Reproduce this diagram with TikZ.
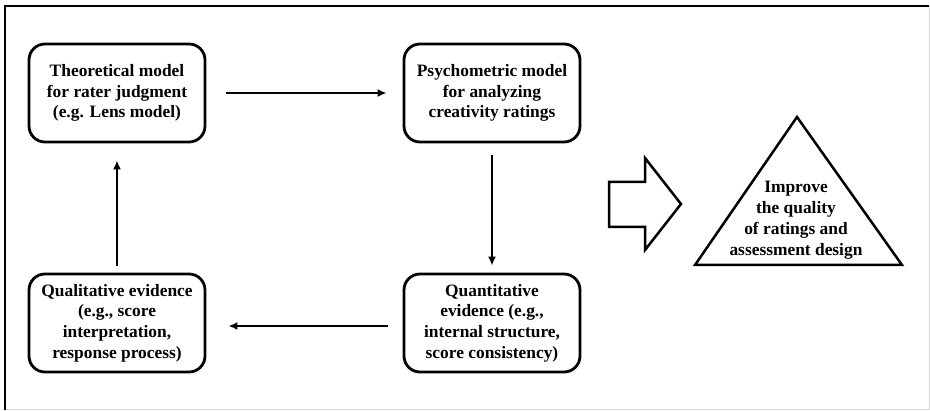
\documentclass[tikz,border=0pt]{standalone}
\usepackage{fontspec}
\setmainfont{Liberation Serif}
\usetikzlibrary{arrows.meta,positioning}

\begin{document}
\begin{tikzpicture}[
  x=1pt, y=-1pt,
  stage/.style={draw, line width=2.8pt, rounded corners=16pt,
    minimum width=176pt, minimum height=98pt, align=center,
    font=\fontsize{17.4}{20.7}\selectfont\bfseries},
  flow/.style={line width=2.5pt, -{Latex[length=9pt,width=8pt]}},
  outline/.style={line width=2.5pt, line join=miter}
]

% ==================
% Frame
% ==================
\useasboundingbox (0,0) rectangle (930,411);
\draw[line width=0.8pt, black!15] (929,6) -- (929,409) -- (5,409);
\draw[line width=2.4pt] (5,410) -- (5,6) -- (929,6);

% ==================
% Cycle boxes
% ==================
\node[stage] (theo) at (117,93) {Theoretical model\\for rater judgment\\(e.g. Lens model)};
\node[stage] (psych) at (492,93) {Psychometric model\\for analyzing\\creativity ratings};
\node[stage] (qual) at (117,323) {Qualitative evidence\\(e.g., score\\interpretation,\\response process)};
\node[stage] (quant) at (492,323) {Quantitative\\evidence (e.g.,\\internal structure,\\score consistency)};

% ==================
% Cycle arrows
% ==================
\draw[flow, shorten <=20pt, shorten >=16pt] (theo.east) -- (psych.west);
\draw[flow, shorten <=12pt, shorten >=7pt] (psych.south) -- (quant.north);
\draw[flow, shorten <=15pt, shorten >=22pt] ([yshift=-3pt]quant.west) -- ([yshift=-3pt]qual.east);
\draw[flow, shorten <=7pt, shorten >=17pt] (qual.north) -- (theo.south);

% ==================
% Outcome
% ==================
\draw[outline] (609,182) -- (645,182) -- (645,158) -- (681,204)
  -- (645,250) -- (645,227) -- (609,227) -- cycle;
\draw[outline] (797,117) -- (902,265) -- (695,265) -- cycle;
\node[align=center, font=\fontsize{17.4}{21}\selectfont\bfseries] (goal) at (796,220)
  {Improve\\the quality\\of ratings and\\assessment design};

\end{tikzpicture}
\end{document}
